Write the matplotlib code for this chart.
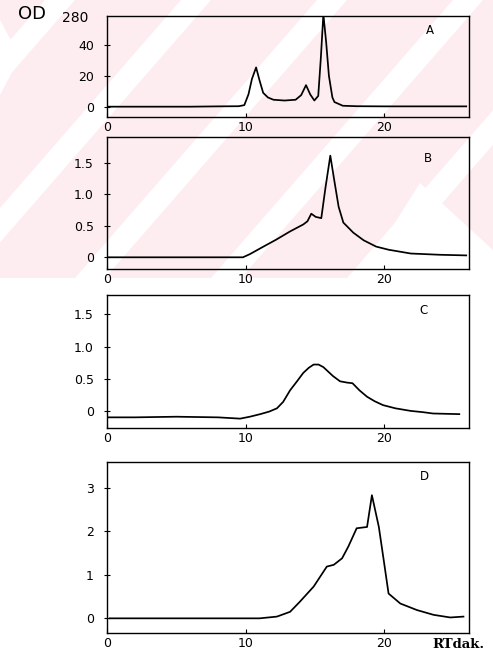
import matplotlib.pyplot as plt
from matplotlib.patches import Polygon, Rectangle

# Retention time (min) / OD280 readings for the four runs
xa = [0, 3, 6, 8, 9.5, 9.9, 10.2, 10.45, 10.75, 11.0, 11.26, 11.6, 12.0, 12.8, 13.6, 14.0,
      14.35, 14.65, 14.95, 15.23, 15.42, 15.6, 15.8, 16.0, 16.25, 16.4, 17.0, 18, 20, 22, 24, 25.9]
ya = [0, 0, 0, 0.2, 0.3, 1, 8, 18, 25.5, 17, 9, 6, 4.5, 4, 4.5, 7.5,
      14, 8, 4, 7, 32, 60, 42, 20, 6, 3, 0.6, 0.3, 0.2, 0.2, 0.2, 0.2]

xb = [0, 3, 6, 9, 9.8, 10.3, 11.2, 12.2, 13.2, 14.15, 14.45, 14.73, 15.05, 15.45, 15.75, 16.1,
      16.4, 16.7, 17.04, 17.76, 18.5, 19.4, 20.3, 21.9, 24, 25.9]
yb = [0, 0, 0, 0, 0, 0.05, 0.16, 0.28, 0.41, 0.52, 0.57, 0.69, 0.64, 0.62, 1.1, 1.61,
      1.2, 0.8, 0.55, 0.39, 0.27, 0.17, 0.12, 0.06, 0.04, 0.03]

xc = [0, 2, 5, 8, 9.6, 10.3, 11.05, 11.7, 12.25, 12.7, 13.2, 13.7, 14.15, 14.55, 14.9, 15.25,
      15.6, 15.95, 16.3, 16.8, 17.3, 17.7, 18.2, 18.75, 19.3, 19.9, 20.8, 21.9, 22.8, 23.5, 25.4]
yc = [-0.1, -0.1, -0.09, -0.1, -0.12, -0.09, -0.05, -0.01, 0.04, 0.14, 0.32, 0.46, 0.59, 0.67, 0.72, 0.72,
      0.68, 0.61, 0.54, 0.46, 0.44, 0.43, 0.32, 0.22, 0.15, 0.09, 0.04, 0, -0.02, -0.04, -0.05]

xd = [0.2, 3, 6, 9, 11, 12.25, 13.2, 13.9, 14.9, 15.85, 16.35, 16.95, 17.4, 18.0, 18.75, 19.1,
      19.6, 19.95, 20.3, 21.15, 22.35, 23.55, 24.75, 25.7]
yd = [0, 0, 0, 0, 0, 0.04, 0.15, 0.38, 0.73, 1.19, 1.23, 1.38, 1.65, 2.07, 2.1, 2.83,
      2.1, 1.34, 0.57, 0.34, 0.19, 0.08, 0.02, 0.04]

xticks = [0, 10, 20]
panels = [
    ("A", xa, ya, (-6.9, 58.9), [0, 20, 40], ["0", "20", "40"]),
    ("B", xb, yb, (-0.19, 1.91), [0, 0.5, 1.0, 1.5], ["0", "0.5", "1.0", "1.5"]),
    ("C", xc, yc, (-0.27, 1.80), [0, 0.5, 1.0, 1.5], ["0", "0.5", "1.0", "1.5"]),
    ("D", xd, yd, (-0.33, 3.6), [0, 1, 2, 3], ["0", "1", "2", "3"]),
]

W, H = 493, 655
fig = plt.figure(figsize=(W / 100, H / 100), dpi=100)

# pale pink diagonal watermark over the upper part of the page
pink = "#fdedf0"
fig.add_artist(Rectangle((0, 1 - 278 / H), 1, 278 / H, transform=fig.transFigure,
                         facecolor=pink, edgecolor="none", zorder=-2))
for c in [-182, -46, 90, 226, 362]:
    pts = [(c - 15, 278), (c + 15, 278), (c + 15 + 242, 0), (c - 15 + 242, 0)]
    fig.add_artist(Polygon([(x / W, 1 - y / H) for x, y in pts], transform=fig.transFigure,
                           facecolor="white", edgecolor="none", zorder=-1))
for pts in [[(0, 20), (20, 57), (0, 95)], [(360, 278), (420, 183), (493, 250), (493, 278)]]:
    fig.add_artist(Polygon([(x / W, 1 - y / H) for x, y in pts], transform=fig.transFigure,
                           facecolor="white", edgecolor="none", zorder=-1))

# axes boxes in pixel terms: (top, bottom)
boxes = [(16, 117.3), (136.7, 269.3), (295, 428.3), (461.7, 632.7)]
label_pos = [(0.892, 0.852), (0.887, 0.832), (0.873, 0.887), (0.878, 0.912)]

for (name, x, y, ylim, yt, ytl), (top, bot), lp in zip(panels, boxes, label_pos):
    ax = fig.add_axes([107 / W, 1 - bot / H, 362 / W, (bot - top) / H])
    ax.set_facecolor("none")
    ax.plot(x, y, color="black", lw=1.25)
    ax.set_xlim(0, 26.1)
    ax.set_ylim(*ylim)
    ax.set_xticks(xticks)
    ax.set_xticklabels(["0", "10", "20"])
    ax.set_yticks(yt)
    ax.set_yticklabels(ytl)
    ax.tick_params(axis="x", direction="in", length=3, pad=3, labelsize=9)
    ax.tick_params(axis="y", direction="inout", length=5, pad=7, labelsize=9)
    for s in ax.spines.values():
        s.set_linewidth(1.0)
    ax.text(lp[0], lp[1], name, transform=ax.transAxes, fontsize=8.5, ha="center", va="center")

# axis captions
fig.text(32 / W, 1 - 14 / H, "OD", fontsize=13, ha="center", va="center")
fig.text(75 / W, 1 - 18 / H, "280", fontsize=10, ha="center", va="center")
fig.text(458 / W, 1 - 645 / H, "RTdak.", fontsize=9.5, fontweight="bold", family="DejaVu Serif",
         ha="center", va="center")

plt.savefig("out.png", dpi=100)
